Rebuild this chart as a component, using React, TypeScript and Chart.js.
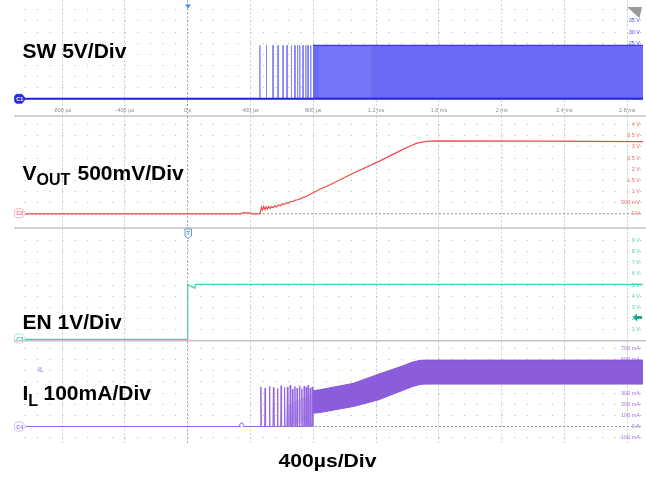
import React, { useEffect, useRef } from 'react';
import { Chart, registerables } from 'chart.js';

Chart.register(...registerables);

// ---------------- data ----------------
const timeTicks = [-800, -400, 0, 400, 800, 1200, 1600, 2000, 2400, 2800]; // µs
const timeTickLabels = ['-800 µs', '-400 µs', '0 s', '400 µs', '800 µs', '1.2 ms', '1.6 ms', '2 ms', '2.4 ms', '2.8 ms'];
const T_MIN = -1100;
const T_MAX = 2900;

// SW (5 V/div)
const swTicks = [0, 5, 10, 15, 20, 25, 30, 35, 40];
const swTickLabels = ['0 V', '5 V', '10 V', '15 V', '20 V', '25 V', '30 V', '35 V', ''];
const swHigh = 24;
const swPulseTimes = [459, 501, 543, 575, 607, 632, 660, 682, 699, 713, 734, 752, 766, 783];
const swBandTimes = [798, 2900];
const swLightTimes = [835, 1170];

// VOUT (500 mV/div)
const voutTicks = [0, 0.5, 1, 1.5, 2, 2.5, 3, 3.5, 4];
const voutTickLabels = ['0 V', '500 mV', '1 V', '1.5 V', '2 V', '2.5 V', '3 V', '3.5 V', '4 V'];
const voutTimes = [-1100, 340, 348, 398, 405, 459, 464, 470, 477, 484, 492, 500, 508, 516, 525, 534, 544, 555, 566, 578, 590, 602, 615, 628, 642, 656, 670, 686, 702, 720, 740, 760, 800, 841, 904, 1053, 1212, 1371, 1420, 1456, 1500, 1541, 1605, 2200, 2900];
const voutValues = [0, 0, 0.04, 0.04, 0, 0, 0.12, 0.3, 0.17, 0.33, 0.19, 0.31, 0.21, 0.32, 0.24, 0.33, 0.27, 0.36, 0.31, 0.4, 0.36, 0.44, 0.42, 0.49, 0.48, 0.55, 0.55, 0.61, 0.63, 0.68, 0.75, 0.8, 0.94, 1.1, 1.29, 1.82, 2.33, 2.89, 3.05, 3.16, 3.23, 3.26, 3.27, 3.26, 3.24];

// EN (1 V/div)
const enTicks = [1, 2, 3, 4, 5, 6, 7, 8, 9];
const enTickLabels = ['1 V', '2 V', '3 V', '4 V', '5 V', '6 V', '7 V', '8 V', '9 V'];
const enTimes = [-1100, 0, 0, 45, 52, 2900];
const enValues = [0.1, 0.1, 5.06, 4.7, 5.06, 5.06];

// IL (100 mA/div)
const ilTicks = [-100, 0, 100, 200, 300, 400, 500, 600, 700];
const ilTickLabels = ['-100 mA', '0 A', '100 mA', '200 mA', '300 mA', '400 mA', '500 mA', '600 mA', '700 mA'];
const ilBaseTimes = [-1100, 328, 336, 348, 360, 459];
const ilBaseValues = [0, 0, 28, 32, 0, 0];
const ilSpikeTimes = [463, 490, 518, 543, 569, 592, 614, 632, 650, 664, 680, 694, 709, 724, 739, 752, 764, 777, 790];
const ilSpikePeaks = [355, 345, 360, 350, 340, 365, 350, 355, 370, 335, 360, 345, 365, 340, 360, 350, 370, 345, 355];
const ilHazeTimes = [630, 720, 798];
const ilHazeTop = [180, 250, 300];
const ilHazeBottom = [15, 30, 110];
const ilBandTimes = [798, 841, 1053, 1212, 1371, 1430, 1480, 1520, 2900];
const ilBandTop = [320, 330, 387, 468, 545, 578, 594, 596, 596];
const ilBandBottom = [120, 125, 179, 238, 325, 358, 378, 381, 381];

// ---------------- helpers ----------------
const W = 646;
const FONT = "'Liberation Sans', Arial, Helvetica, sans-serif";

const pts = (xs: number[], ys: number[]) => xs.map((x, i) => ({ x, y: ys[i] }));
const flat = (xs: number[], y: number) => xs.map((x) => ({ x, y }));

const line = (data: any[], color: string, width: number, extra: any = {}) => ({
  data,
  borderColor: color,
  borderWidth: width,
  pointRadius: 0,
  fill: false,
  tension: 0,
  ...extra,
});

const swSpikes = swPulseTimes.flatMap((t) => [
  { x: t, y: 0 },
  { x: t, y: swHigh },
  { x: t + 1.5, y: swHigh },
  { x: t + 1.5, y: 0 },
]);

const ilTrace = [
  ...pts(ilBaseTimes, ilBaseValues),
  ...ilSpikeTimes.flatMap((t, i) => [
    { x: t, y: 0 },
    { x: t + 3, y: ilSpikePeaks[i] },
    { x: t + 6, y: 0 },
  ]),
  { x: 798, y: 0 },
];

type PanelDef = {
  key: string;
  top: number;
  height: number;
  showX: boolean;
  yMin: number;
  yMax: number;
  ticks: number[];
  tickLabels: string[];
  labelColor: string;
  datasets: any[];
};

const zeroRef = () =>
  line(flat([T_MIN, T_MAX], 0), '#9b9b9b', 1, { borderDash: [2, 2] });

const panels: PanelDef[] = [
  {
    key: 'sw',
    top: 0,
    height: 116,
    showX: true,
    yMin: -2.38,
    yMax: 44.3,
    ticks: swTicks,
    tickLabels: swTickLabels,
    labelColor: '#4b4bf0',
    datasets: [
      line(flat([T_MIN, T_MAX], 0), '#2323d4', 2),
      line(flat(swBandTimes, swHigh), '#3b3be6', 1.2),
      line(swSpikes, '#8585fb', 1),
      line(flat(swLightTimes, 0.5), 'rgba(0,0,0,0)', 0),
      line(flat(swLightTimes, swHigh - 0.5), 'rgba(0,0,0,0)', 0, { fill: 3, backgroundColor: 'rgba(160,160,255,0.22)' }),
      line(flat(swBandTimes, 0), 'rgba(0,0,0,0)', 0),
      line(flat(swBandTimes, swHigh), 'rgba(0,0,0,0)', 0, { fill: 5, backgroundColor: '#6a6af6' }),
    ],
  },
  {
    key: 'vout',
    top: 116,
    height: 112,
    showX: false,
    yMin: -0.625,
    yMax: 4.375,
    ticks: voutTicks,
    tickLabels: voutTickLabels,
    labelColor: '#f06a6a',
    datasets: [line(pts(voutTimes, voutValues), '#f04b4b', 1.2), zeroRef()],
  },
  {
    key: 'en',
    top: 228,
    height: 113,
    showX: false,
    yMin: -0.01,
    yMax: 10.1,
    ticks: enTicks,
    tickLabels: enTickLabels,
    labelColor: '#57cdb6',
    datasets: [line(pts(enTimes, enValues), '#4ccfb4', 1.3)],
  },
  {
    key: 'il',
    top: 341,
    height: 102,
    showX: false,
    yMin: -145.5,
    yMax: 765,
    ticks: ilTicks,
    tickLabels: ilTickLabels,
    labelColor: '#a274e8',
    datasets: [
      line(ilTrace, '#9466e2', 1),
      line(pts(ilBandTimes, ilBandTop), '#8656d8', 1),
      line(pts(ilBandTimes, ilBandBottom), '#8656d8', 1),
      line(pts(ilBandTimes, ilBandTop), 'rgba(0,0,0,0)', 0, { fill: 2, backgroundColor: '#8b5cdc' }),
      line(pts(ilHazeTimes, ilHazeBottom), 'rgba(0,0,0,0)', 0),
      line(pts(ilHazeTimes, ilHazeTop), 'rgba(0,0,0,0)', 0, { fill: 4, backgroundColor: 'rgba(196,170,245,0.6)' }),
      zeroRef(),
    ],
  },
];

function buildConfig(p: PanelDef): any {
  return {
    type: 'line',
    data: { datasets: p.datasets },
    options: {
      animation: false,
      responsive: false,
      maintainAspectRatio: false,
      devicePixelRatio: 1,
      events: [],
      layout: { padding: { left: 15, right: 3, top: 0, bottom: 0 } },
      plugins: { legend: { display: false }, tooltip: { enabled: false } },
      elements: { point: { radius: 0 } },
      scales: {
        x: {
          type: 'linear',
          min: T_MIN,
          max: T_MAX,
          afterBuildTicks: (s: any) => {
            s.ticks = timeTicks.map((v) => ({ value: v }));
          },
          afterFit: (s: any) => {
            s.height = p.showX ? 12 : 0;
            s.paddingLeft = 0;
            s.paddingRight = 0;
          },
          grid: {
            color: (c: any) => (c.tick && c.tick.value === 0 ? '#9e9e9e' : '#d0d0d0'),
            tickColor: (c: any) => (c.tick && c.tick.value === 0 ? '#9e9e9e' : '#d0d0d0'),
            lineWidth: 1,
            drawTicks: p.showX,
            tickLength: 12,
            tickBorderDash: [2, 2],
          },
          border: { display: false, dash: [2, 2] },
          ticks: {
            display: p.showX,
            padding: -9,
            maxRotation: 0,
            autoSkip: false,
            color: '#8c8c8c',
            font: { size: 5.5, family: FONT },
            callback: (_v: any, i: number) => timeTickLabels[i],
          },
        },
        y: {
          type: 'linear',
          position: 'right',
          min: p.yMin,
          max: p.yMax,
          afterBuildTicks: (s: any) => {
            s.ticks = p.ticks.map((v) => ({ value: v }));
          },
          afterFit: (s: any) => {
            s.width = 0;
          },
          grid: { color: '#b5b5b5', lineWidth: 1, drawTicks: false },
          border: { display: false, dash: [1, 11.56], dashOffset: 3.14 },
          ticks: {
            mirror: true,
            padding: -3,
            color: p.labelColor,
            font: { size: 5.5, family: FONT },
            callback: (_v: any, i: number) => p.tickLabels[i],
          },
        },
      },
    },
  };
}

function Panel({ p }: { p: PanelDef }) {
  const ref = useRef<HTMLCanvasElement>(null);
  useEffect(() => {
    const chart = new Chart(ref.current as HTMLCanvasElement, buildConfig(p));
    return () => chart.destroy();
  }, [p]);
  return (
    <canvas
      ref={ref}
      width={W}
      height={p.height}
      style={{ position: 'absolute', left: 0, top: p.top, width: W, height: p.height }}
    />
  );
}

function Tag({ cy, label, fill, stroke, textColor }: { cy: number; label: string; fill: string; stroke: string; textColor: string }) {
  const d = `M17,${cy - 4.5} H22 L25.5,${cy} L22,${cy + 4.5} H17 Q14.5,${cy + 4.5} 14.5,${cy} Q14.5,${cy - 4.5} 17,${cy - 4.5} Z`;
  return (
    <g>
      <path d={d} fill={fill} stroke={stroke} strokeWidth={0.8} />
      <text x={16.2} y={cy + 2} fontSize={5.5} fill={textColor} fontWeight="bold">
        {label}
      </text>
    </g>
  );
}

export default function App() {
  return (
    <div style={{ position: 'absolute', left: 0, top: 0, width: W, height: 477, background: '#fff', overflow: 'hidden' }}>
      {panels.map((p) => (
        <Panel key={p.key} p={p} />
      ))}
      <svg width={W} height={477} style={{ position: 'absolute', left: 0, top: 0 }} fontFamily={FONT}>
        <Tag cy={338.5} label="C3" fill="#fff" stroke="#9fded0" textColor="#49c3a8" />
        <line x1={14} x2={646} y1={116} y2={116} stroke="#c4c4c4" strokeWidth={1.5} />
        <line x1={14} x2={646} y1={228} y2={228} stroke="#c4c4c4" strokeWidth={1.5} />
        <line x1={14} x2={646} y1={340.8} y2={340.8} stroke="#c4c4c4" strokeWidth={1.5} />

        <Tag cy={98.8} label="C1" fill="#2a2ad6" stroke="#2a2ad6" textColor="#ffffff" />
        <Tag cy={213.3} label="C2" fill="#fff" stroke="#f2a0a0" textColor="#ee6b6b" />
        <Tag cy={426.5} label="C4" fill="#fff" stroke="#c6a8f2" textColor="#9a6ce0" />

        {/* trigger markers */}
        <polygon points="185,4.5 191,4.5 188,8.5" fill="#3a8ee8" />
        <g>
          <path d="M185,229 H191.5 V236 L188.2,238.5 L185,236 Z" fill="#fff" stroke="#4a90e0" strokeWidth={0.9} />
          <text x={188.2} y={235.3} fontSize={6} textAnchor="middle" fill="#4a90e0" fontWeight="bold">T</text>
        </g>
        <polygon points="633,317.5 637,313.5 637,316 642,316 642,319 637,319 637,321.5" fill="#1fa58a" />
        <polygon points="627,7 642,7 639.5,18" fill="#9a9a9a" />

        {/* channel labels */}
        <text x={22.5} y={58.3} fontSize={21} fontWeight="bold" fill="#000">SW 5V/Div</text>
        <text x={22.5} y={180} fontSize={21} fontWeight="bold" fill="#000">
          V<tspan fontSize={16} dy={5}>OUT</tspan>
          <tspan x={77.5} dy={-5}>500mV/Div</tspan>
        </text>
        <text x={22.5} y={329.3} fontSize={21} fontWeight="bold" fill="#000">EN 1V/Div</text>
        <text x={38} y={372} fontSize={7} fill="#9966dd">IL</text>
        <text x={22.5} y={400} fontSize={21} fontWeight="bold" fill="#000">
          I<tspan fontSize={16} dy={6}>L</tspan>
          <tspan x={43.5} dy={-6}>100mA/Div</tspan>
        </text>
        <text x={327.5} y={466.7} fontSize={18} fontWeight="bold" fill="#000" textAnchor="middle" textLength={98} lengthAdjust="spacingAndGlyphs">
          400µs/Div
        </text>
      </svg>
    </div>
  );
}
